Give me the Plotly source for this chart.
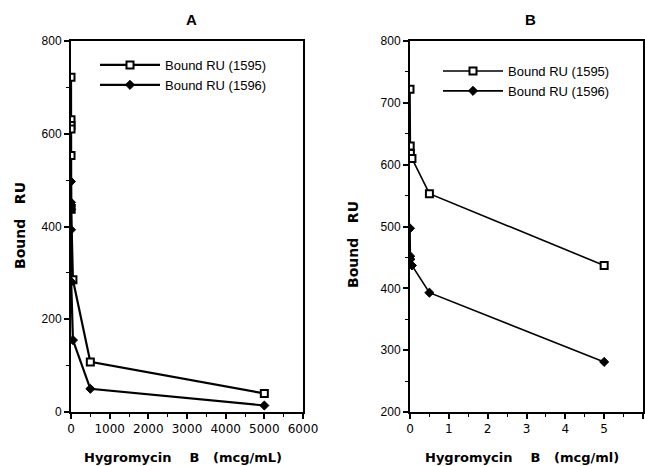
import plotly.graph_objects as go

# Hygromycin B concentration (mcg/mL)
conc = [0, 0.005, 0.01, 0.05, 0.5, 5, 50, 500, 5000]
ru_1595 = [722, 630, 618, 610, 553, 437, 285, 108, 40]
ru_1596 = [497, 452, 447, 437, 393, 281, 155, 50, 14]

# Panel B shows only the low-concentration range
conc_b = conc[:6]
ru_1595_b = ru_1595[:6]
ru_1596_b = ru_1596[:6]

x_ticks_a = [0, 1000, 2000, 3000, 4000, 5000, 6000]
y_ticks_a = [0, 200, 400, 600, 800]
x_ticks_b = [0, 1, 2, 3, 4, 5, 6]
y_ticks_b = [200, 300, 400, 500, 600, 700, 800]

FONT = "Liberation Sans, Arial, Helvetica, sans-serif"
WIDE = "DejaVu Sans, Verdana, sans-serif"
NB = "\u00a0"

sq = dict(symbol="square", size=7, color="white", line=dict(color="black", width=2))
dm = dict(symbol="diamond", size=7, color="black", line=dict(color="black", width=1))

fig = go.Figure()
fig.add_trace(go.Scatter(x=conc, y=ru_1595, mode="lines+markers", name="Bound RU (1595)",
                         line=dict(color="black", width=2.2), marker=sq,
                         xaxis="x", yaxis="y", legend="legend"))
fig.add_trace(go.Scatter(x=conc, y=ru_1596, mode="lines+markers", name="Bound RU (1596)",
                         line=dict(color="black", width=2.2), marker=dm,
                         xaxis="x", yaxis="y", legend="legend"))
fig.add_trace(go.Scatter(x=conc_b, y=ru_1595_b, mode="lines+markers", name="Bound RU (1595)",
                         line=dict(color="black", width=1.6), marker=sq,
                         xaxis="x2", yaxis="y2", legend="legend2"))
fig.add_trace(go.Scatter(x=conc_b, y=ru_1596_b, mode="lines+markers", name="Bound RU (1596)",
                         line=dict(color="black", width=1.6), marker=dm,
                         xaxis="x2", yaxis="y2", legend="legend2"))

axis_common = dict(showgrid=False, zeroline=False, showline=True, linecolor="black",
                   linewidth=2, mirror=True, ticks="outside", ticklen=5, tickwidth=1.5,
                   tickcolor="black", automargin=False,
                   minor=dict(ticks="outside", ticklen=3, tickwidth=1, tickcolor="black"))
xfont = dict(family=WIDE, size=12, color="black")
yfont = dict(family=FONT, size=12, color="black")

W, H = 645, 466
def px_x(p): return p / W
def px_y(p): return 1 - p / H

def label(text, x, y, size=13, angle=0, family=FONT):
    return dict(text=text, x=px_x(x), y=px_y(y), xref="paper", yref="paper",
                xanchor="center", yanchor="middle", showarrow=False, textangle=angle,
                font=dict(family=family, size=size, color="black"))

title_a = "<b>Hygromycin" + NB * 4 + "B" + NB * 3 + "(mcg/mL)</b>"
title_b = "<b>Hygromycin" + NB * 4 + "B" + NB * 3 + "(mcg/ml)</b>"
ytitle = "<b>Bound" + NB * 3 + "RU</b>"

fig.update_layout(
    width=W, height=H,
    margin=dict(l=0, r=0, t=0, b=0, pad=0, autoexpand=False),
    paper_bgcolor="white", plot_bgcolor="white",
    xaxis=dict(domain=[px_x(71), px_x(303)], range=[0, 6000], tickvals=x_ticks_a,
               anchor="y", minor_dtick=500, tickfont=xfont, **axis_common),
    yaxis=dict(domain=[px_y(412), px_y(41)], range=[0, 800], tickvals=y_ticks_a,
               anchor="x", minor_dtick=100, tickfont=yfont, **axis_common),
    xaxis2=dict(domain=[px_x(410), px_x(643)], range=[0, 6], tickvals=x_ticks_b,
                anchor="y2", minor_dtick=0.5, tickfont=xfont, **axis_common),
    yaxis2=dict(domain=[px_y(412), px_y(41)], range=[200, 800], tickvals=y_ticks_b,
                anchor="x2", minor_dtick=50, tickfont=yfont, **axis_common),
    legend=dict(x=px_x(95), y=px_y(50), xanchor="left", yanchor="top",
                bgcolor="rgba(0,0,0,0)", font=dict(family=FONT, size=13, color="black"),
                itemwidth=60, tracegroupgap=0),
    legend2=dict(x=px_x(438), y=px_y(56), xanchor="left", yanchor="top",
                 bgcolor="rgba(0,0,0,0)", font=dict(family=FONT, size=13, color="black"),
                 itemwidth=60, tracegroupgap=0),
    showlegend=True,
    annotations=[
        label("<b>A</b>", 191, 20, size=15),
        label("<b>B</b>", 530, 20, size=15),
        label(title_a, 183, 457, size=13, family=WIDE),
        label(title_b, 522, 457, size=13, family=WIDE),
        label(ytitle, 20, 226, size=14, angle=-90, family=WIDE),
        label(ytitle, 353, 244, size=14, angle=-90, family=WIDE),
    ],
)

fig.write_html("out.html", post_script="document.body.style.margin='0';document.body.style.overflow='hidden';")
